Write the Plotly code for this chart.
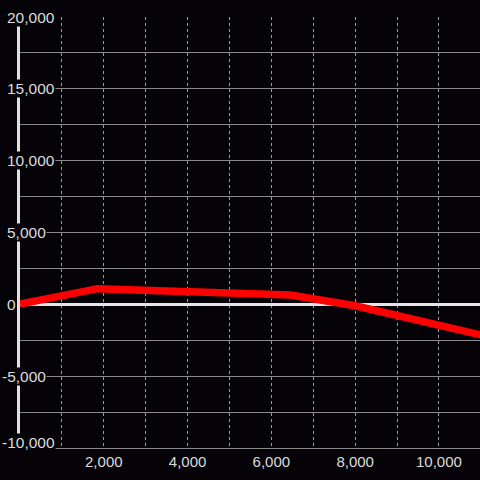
import plotly.graph_objects as go

# line series
x_vals = [0, 1850, 6450, 8000, 11000]
y_vals = [20, 1090, 650, -100, -2130]

# x tick labels
xtick_vals = [2000, 4000, 6000, 8000, 10000]
xtick_text = ["2,000", "4,000", "6,000", "8,000", "10,000"]

# y tick labels (drawn as boxed labels over the axis)
ytick_vals = [20000, 15000, 10000, 5000, 0, -5000, -10000]
ytick_text = ["20,000", "15,000", "10,000", "5,000", "0", "-5,000", "-10,000"]

BG = "#050308"
TXT = "#dcdcdc"
GRID = "#8a8a8a"

fig = go.Figure()
fig.add_trace(go.Scatter(
    x=x_vals, y=y_vals, mode="lines",
    line=dict(color="#ff0000", width=7.5),
    hoverinfo="skip", cliponaxis=False,
))

for v, t in zip(ytick_vals, ytick_text):
    fig.add_annotation(
        x=0, xref="paper", y=v, yref="y",
        text=t, showarrow=False,
        xanchor="left", xshift=-19 if t.startswith("-") else -14,
        yshift=6 if v == min(ytick_vals) else 0,
        font=dict(family="Liberation Sans, Arial", size=15.5, color=TXT),
        bgcolor=BG, borderpad=0,
    )

fig.update_layout(
    width=480, height=480,
    paper_bgcolor=BG, plot_bgcolor=BG,
    margin=dict(l=20, r=0, t=17, b=32),
    showlegend=False,
    font=dict(family="Liberation Sans, Arial", color=TXT),
)
fig.update_xaxes(
    range=[0, 10980], tickvals=xtick_vals, ticktext=xtick_text,
    showgrid=True, gridcolor="#9a9a9a", griddash="dot", gridwidth=1,
    minor=dict(dtick=1000, showgrid=True, gridcolor="#9a9a9a", griddash="dot"),
    zeroline=False, showline=True, linecolor=GRID, linewidth=1,
    ticks="", tickfont=dict(size=15, color=TXT), automargin=False,
)
fig.update_yaxes(
    range=[-10000, 20000], dtick=2500, showticklabels=False,
    showgrid=True, gridcolor=GRID, gridwidth=1,
    zeroline=True, zerolinecolor="#e6e6e6", zerolinewidth=3,
    showline=True, linecolor="#e0e0e0", linewidth=3, layer="below traces",
    ticks="", automargin=False,
)

fig.write_html("out.html", config={"displayModeBar": False},
               post_script="document.body.style.margin='0px';")
